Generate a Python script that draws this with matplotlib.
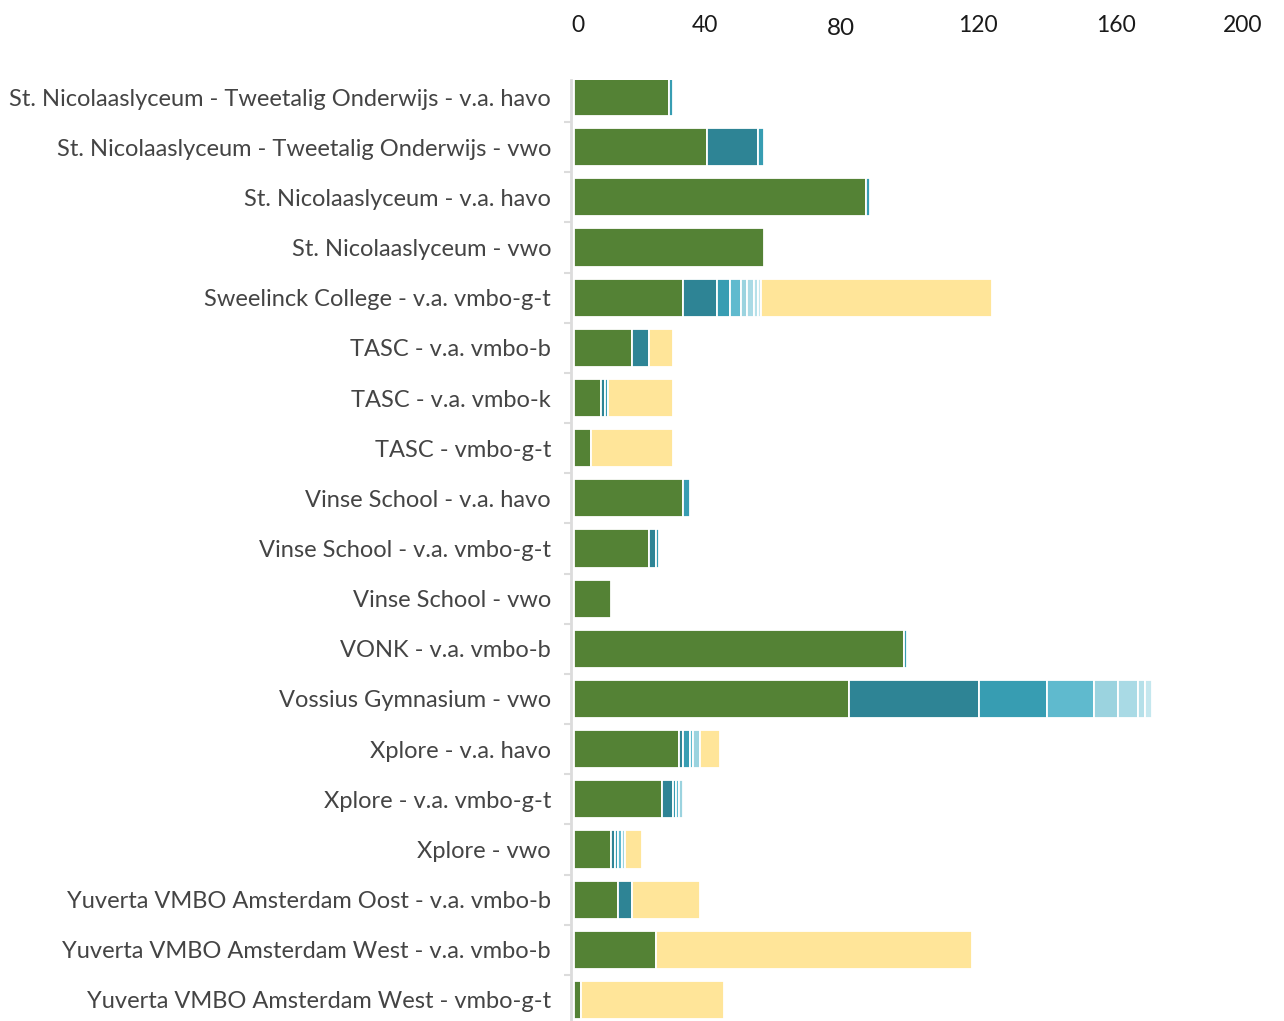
import matplotlib
matplotlib.use("Agg")
import matplotlib.pyplot as plt
import matplotlib.transforms as mtransforms
import numpy as np

categories = [
    "St. Nicolaaslyceum - Tweetalig Onderwijs - v.a. havo",
    "St. Nicolaaslyceum - Tweetalig Onderwijs - vwo",
    "St. Nicolaaslyceum - v.a. havo",
    "St. Nicolaaslyceum - vwo",
    "Sweelinck College - v.a. vmbo-g-t",
    "TASC - v.a. vmbo-b",
    "TASC - v.a. vmbo-k",
    "TASC - vmbo-g-t",
    "Vinse School - v.a. havo",
    "Vinse School - v.a. vmbo-g-t",
    "Vinse School - vwo",
    "VONK - v.a. vmbo-b",
    "Vossius Gymnasium - vwo",
    "Xplore - v.a. havo",
    "Xplore - v.a. vmbo-g-t",
    "Xplore - vwo",
    "Yuverta VMBO Amsterdam Oost - v.a. vmbo-b",
    "Yuverta VMBO Amsterdam West - v.a. vmbo-b",
    "Yuverta VMBO Amsterdam West - vmbo-g-t",
]

green       = [28, 39, 86, 56, 32, 17, 8, 5, 32, 22, 11, 97, 81, 31, 26, 11, 13, 24, 2]
dark_teal   = [0, 15, 0, 0, 10, 5, 1, 0, 0, 2, 0, 0, 38, 1, 3, 1, 4, 0, 0]
teal        = [1, 2, 1, 0, 4, 0, 1, 0, 2, 1, 0, 1, 20, 2, 1, 1, 0, 0, 0]
light_teal  = [0, 0, 0, 0, 3, 0, 0, 0, 0, 0, 0, 0, 14, 1, 1, 1, 0, 0, 0]
pale_teal_1 = [0, 0, 0, 0, 2, 0, 0, 0, 0, 0, 0, 0, 7, 2, 1, 1, 0, 0, 0]
pale_teal_2 = [0, 0, 0, 0, 2, 0, 0, 0, 0, 0, 0, 0, 6, 0, 0, 0, 0, 0, 0]
pale_teal_3 = [0, 0, 0, 0, 1, 0, 0, 0, 0, 0, 0, 0, 2, 0, 0, 0, 0, 0, 0]
pale_teal_4 = [0, 0, 0, 0, 1, 0, 0, 0, 0, 0, 0, 0, 2, 0, 0, 0, 0, 0, 0]
yellow      = [0, 0, 0, 0, 68, 7, 19, 24, 0, 0, 0, 0, 0, 6, 0, 5, 20, 93, 42]

x_ticks = [0, 40, 80, 120, 160, 200]

series = [green, dark_teal, teal, light_teal, pale_teal_1, pale_teal_2,
          pale_teal_3, pale_teal_4, yellow]
colors = ["#548235", "#2e8495", "#379db2", "#5fbace", "#9bd3df", "#a9dae5",
          "#b5e0e9", "#c4e7ee", "#ffe599"]

plt.rcParams['font.family'] = ['Lato', 'DejaVu Sans']

W, H = 1284, 1021
fig = plt.figure(figsize=(W / 100, H / 100), dpi=100)
ax = fig.add_axes([574 / W, 0, (1254 - 574) / W, 1 - 80 / H])

y = np.arange(len(categories))
left = np.zeros(len(categories))
for vals, col in zip(series, colors):
    v = np.array(vals, dtype=float)
    m = v > 0
    ax.barh(y[m], v[m], left=left[m], height=0.76, color=col,
            edgecolor="white", linewidth=1.3, zorder=3)
    left += v

ax.set_xlim(0, 200)
ax.set_ylim(18.42, -0.34)

for s in ["top", "right", "bottom"]:
    ax.spines[s].set_visible(False)
ax.spines["left"].set_color("#dcdcdc")
ax.spines["left"].set_linewidth(2)
ax.spines["left"].set_position(("outward", 2))

ax.set_yticks(y)
ax.set_yticklabels(categories, fontsize=17, color="#444444")
ax.set_yticks(np.arange(len(categories) - 1) + 0.5, minor=True)
ax.tick_params(axis="y", which="major", length=0, pad=14.5)
ax.tick_params(axis="y", which="minor", length=5, width=1.5, color="#dcdcdc")

ax.xaxis.tick_top()
ax.set_xticks(x_ticks)
ax.set_xticklabels([str(t) for t in x_ticks], fontsize=16.5, color="#1a1a1a")
ax.tick_params(axis="x", length=0, pad=32)
offsets = [4, -5, -5, -4, -2, -11]
for lab, dx in zip(ax.get_xticklabels(), offsets):
    dy = 0
    if lab.get_text() == "80":
        lab.set_fontsize(17.5)
        dy = -3
    lab.set_transform(lab.get_transform() +
                      mtransforms.ScaledTranslation(dx / 100, dy / 100, fig.dpi_scale_trans))

fig.savefig("out.png", dpi=100)
